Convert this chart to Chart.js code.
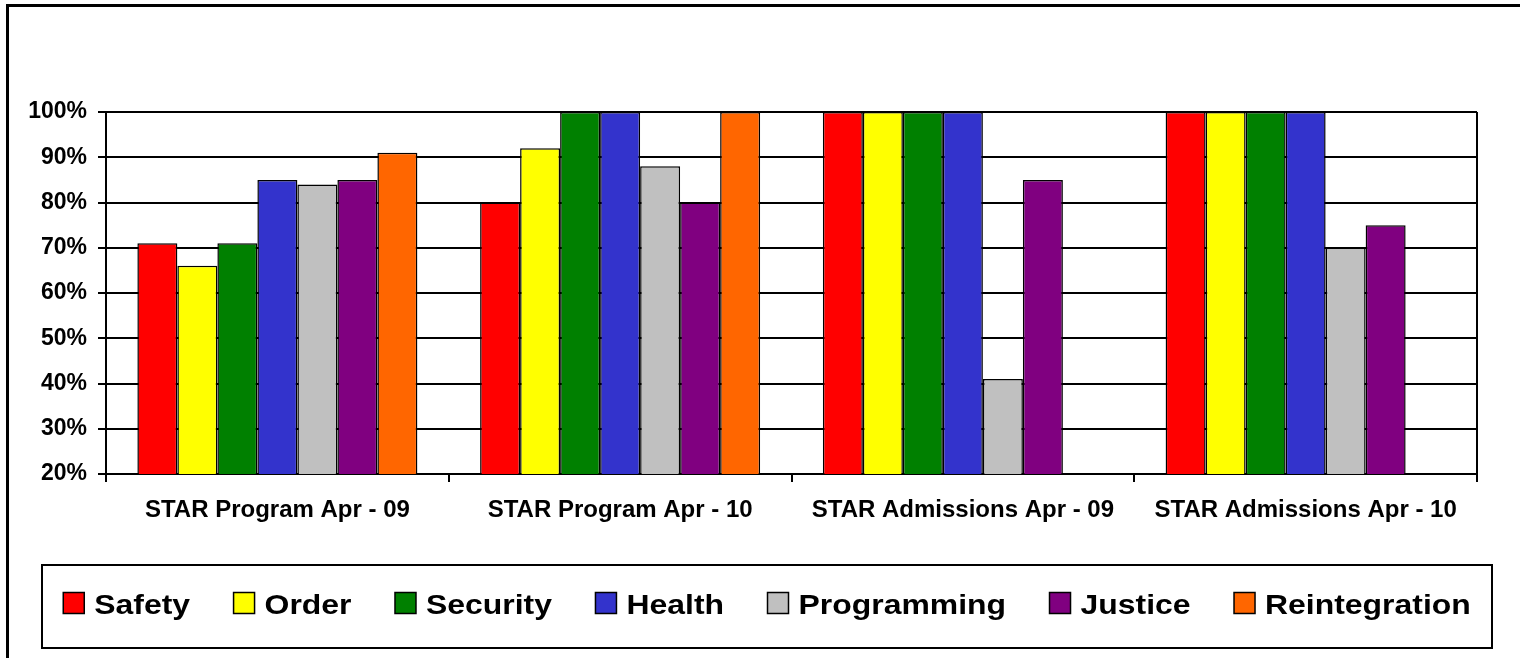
<!DOCTYPE html>
<html>
<head>
<meta charset="utf-8">
<script src="https://cdn.jsdelivr.net/npm/chart.js@4/dist/chart.umd.min.js"></script>
<style>
  html, body { margin: 0; padding: 0; background: #fff; overflow: hidden; }
  #wrap { position: relative; width: 1520px; height: 658px; }
  #frame { position: absolute; left: 6px; top: 4px; width: 1600px; height: 800px; border: 3px solid #000; box-sizing: border-box; pointer-events: none; }
  canvas { position: absolute; left: 0; top: 0; }
</style>
</head>
<body>
<div id="wrap">
  <div id="frame"></div>
  <canvas id="c" width="1520" height="658"></canvas>
</div>
<script>
const categories = ["STAR Program Apr - 09", "STAR Program Apr - 10", "STAR Admissions Apr - 09", "STAR Admissions Apr - 10"];
const safety        = [71, 80, 100, 100];
const order         = [66, 92, 100, 100];
const security      = [71, 100, 100, 100];
const health        = [85, 100, 100, 100];
const programming   = [84, 88, 41, 70];
const justice       = [85, 80, 85, 75];
const reintegration = [91, 100, null, null];
const seriesNames = ["Safety", "Order", "Security", "Health", "Programming", "Justice", "Reintegration"];
const seriesColors = ["#FF0000", "#FFFF00", "#008000", "#3333CC", "#C0C0C0", "#800080", "#FF6600"];
const yMin = 20, yMax = 100, yStep = 10;

const FONT = "'Liberation Sans', Arial, sans-serif";
const seriesData = [safety, order, security, health, programming, justice, reintegration];

const frameAndLegend = {
  id: 'frameAndLegend',
  afterDraw(chart) {
    const ctx = chart.ctx;
    const a = chart.chartArea;
    ctx.save();
    // plot area right border
    ctx.strokeStyle = '#000';
    ctx.lineWidth = 2;
    ctx.beginPath();
    ctx.moveTo(a.right, a.top);
    ctx.lineTo(a.right, a.bottom);
    ctx.stroke();

    // legend frame
    const lx1 = 42, lx2 = 1492, ly1 = 565, ly2 = 648;
    ctx.lineWidth = 2;
    ctx.strokeRect(lx1, ly1, lx2 - lx1, ly2 - ly1);

    // legend items
    const fs = 28, sx = 1.14, box = 21, gapBT = 10, gapItem = 43.5;
    ctx.font = 'bold ' + fs + 'px ' + FONT;
    const ds = chart.data.datasets;
    const widths = ds.map(d => ctx.measureText(d.label).width * sx);
    let total = 0;
    widths.forEach((w, i) => { total += box + gapBT + w + (i < widths.length - 1 ? gapItem : 0); });
    let x = (lx1 + lx2) / 2 - total / 2;
    const cy = 603;
    ctx.textBaseline = 'alphabetic';
    ds.forEach((d, i) => {
      ctx.fillStyle = d.backgroundColor;
      ctx.fillRect(x, cy - box / 2, box, box);
      ctx.lineWidth = 1.5;
      ctx.strokeStyle = '#000';
      ctx.strokeRect(x, cy - box / 2, box, box);
      const tx = x + box + gapBT;
      ctx.save();
      ctx.translate(tx, cy + 10.5);
      ctx.scale(sx, 1);
      ctx.fillStyle = '#000';
      ctx.fillText(d.label, 0, 0);
      ctx.restore();
      x = tx + widths[i] + gapItem;
    });
    ctx.restore();
  }
};

new Chart(document.getElementById('c'), {
  type: 'bar',
  data: {
    labels: categories,
    datasets: seriesNames.map((n, i) => ({
      label: n,
      data: seriesData[i],
      backgroundColor: seriesColors[i],
      borderColor: '#000',
      borderWidth: 1.5,
      borderSkipped: false,
      barPercentage: 1.0,
      categoryPercentage: 0.817
    }))
  },
  options: {
    responsive: false,
    devicePixelRatio: 1,
    animation: false,
    layout: { padding: { left: 0, right: 43, top: 112, bottom: 124 } },
    plugins: {
      legend: { display: false },
      tooltip: { enabled: false }
    },
    scales: {
      x: {
        afterFit(scale) { scale.height = 60; },
        grid: {
          offset: true,
          drawOnChartArea: false,
          drawTicks: true,
          tickLength: 8,
          color: '#000',
          lineWidth: 2
        },
        border: { display: true, color: '#000', width: 2 },
        ticks: {
          color: '#000',
          padding: 14,
          maxRotation: 0,
          autoSkip: false,
          font: { family: FONT, size: 24, weight: 'bold' }
        }
      },
      y: {
        min: yMin,
        max: yMax,
        afterFit(scale) { scale.width = 106; },
        grid: {
          color: '#000',
          lineWidth: 2,
          drawTicks: true,
          tickLength: 8
        },
        border: { display: true, color: '#000', width: 2 },
        ticks: {
          stepSize: yStep,
          color: '#000',
          padding: 11,
          callback: v => v + '%',
          font: { family: FONT, size: 23, weight: 'bold' }
        }
      }
    }
  },
  plugins: [frameAndLegend]
});
</script>
</body>
</html>
